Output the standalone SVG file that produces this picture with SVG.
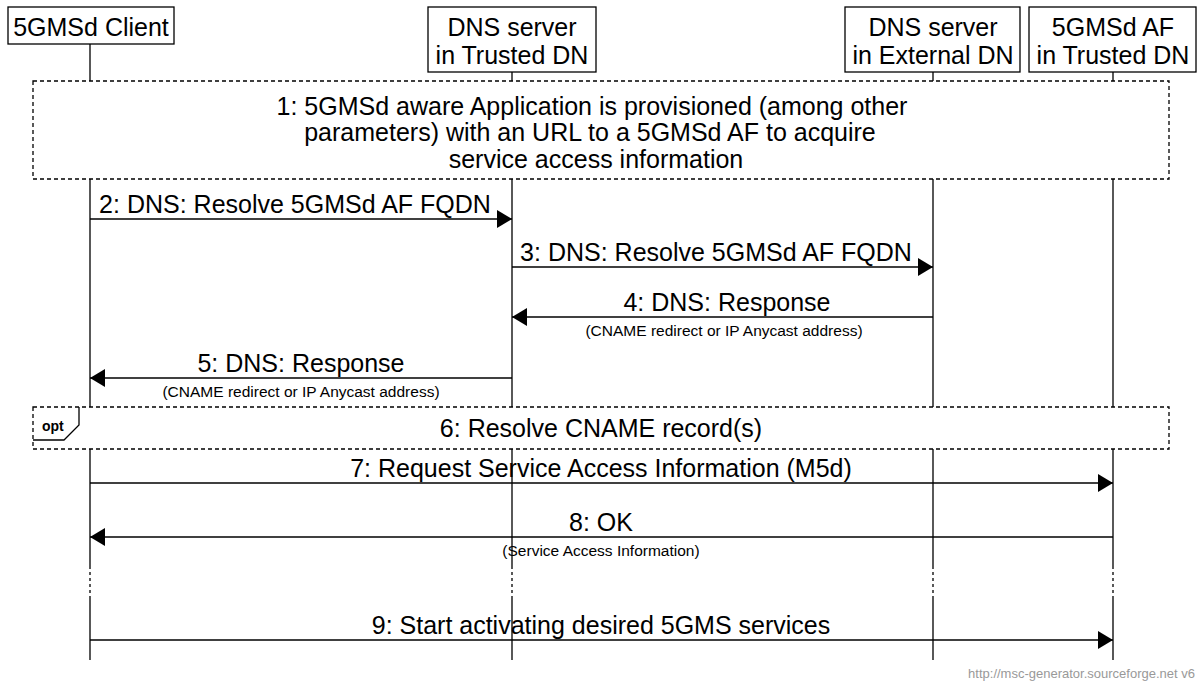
<svg xmlns="http://www.w3.org/2000/svg" width="1198" height="686" viewBox="0 0 1198 686">
<style>
text{font-family:"Liberation Sans",Arial,sans-serif;fill:#000}
.t{font-size:25px;text-anchor:middle}
.s{font-size:15.5px;text-anchor:middle}
.box{fill:#fff;stroke:#000;stroke-width:1.3}
.life{stroke:#000;stroke-width:1.3;fill:none}
.lifed{stroke:#000;stroke-width:1.3;fill:none;stroke-dasharray:3,3}
.frame{fill:#fff;stroke:#000;stroke-width:1.3;stroke-dasharray:4,3}
.arr{stroke:#000;stroke-width:1.3;fill:none;marker-end:url(#ah)}
.wm{font-size:13px;fill:#999;text-anchor:end}
</style>
<defs>
<marker id="ah" markerUnits="userSpaceOnUse" markerWidth="16" markerHeight="20" viewBox="0 0 16 20" refX="15" refY="10" orient="auto">
<path d="M0,1 L15,10 L0,19 Z" fill="#000"/>
</marker>
</defs>
<g id="lifelines">
<path class="life" d="M90,44V566M90,598V660"/>
<path class="life" d="M512,72V566M512,598V660"/>
<path class="life" d="M933,72V566M933,598V660"/>
<path class="life" d="M1113,72V566M1113,598V660"/>
<path class="lifed" d="M90,566V598M512,566V598M933,566V598M1113,566V598"/>
</g>
<g id="client"><rect class="box" x="8" y="7" width="166" height="37"/><text class="t" x="91" y="36">5GMSd Client</text></g>
<g id="dnsTrusted"><rect class="box" x="428" y="7" width="168" height="65"/><text class="t" x="512" y="36">DNS server</text><text class="t" x="512" y="64">in Trusted DN</text></g>
<g id="dnsExternal"><rect class="box" x="845" y="7" width="175" height="65"/><text class="t" x="933" y="36">DNS server</text><text class="t" x="933" y="64">in External DN</text></g>
<g id="af"><rect class="box" x="1029" y="7" width="167" height="65"/><text class="t" x="1113" y="36">5GMSd AF</text><text class="t" x="1113" y="64">in Trusted DN</text></g>
<g id="step1"><rect class="frame" x="33" y="81" width="1136" height="98"/>
<text class="t" x="592" y="115">1: 5GMSd aware Application is provisioned (among other</text>
<text class="t" x="590" y="141">parameters) with an URL to a 5GMSd AF to acquire</text>
<text class="t" x="596" y="168">service access information</text></g>
<g id="opt"><rect class="frame" x="33" y="407" width="1136" height="42"/>
<path d="M79,407V425L64,440H33" fill="none" stroke="#000" stroke-width="1.3"/>
<text x="42" y="431" style="font-size:14px;font-weight:bold">opt</text>
<text class="t" x="601" y="437">6: Resolve CNAME record(s)</text></g>
<g id="connectors">
<line class="arr" x1="90" y1="219" x2="512" y2="219"/>
<line class="arr" x1="512" y1="267" x2="933" y2="267"/>
<line class="arr" x1="933" y1="317" x2="512" y2="317"/>
<line class="arr" x1="512" y1="378" x2="90" y2="378"/>
<line class="arr" x1="90" y1="483" x2="1113" y2="483"/>
<line class="arr" x1="1113" y1="537" x2="90" y2="537"/>
<line class="arr" x1="90" y1="640" x2="1113" y2="640"/>
</g>
<g id="labels">
<text class="t" x="295" y="213">2: DNS: Resolve 5GMSd AF FQDN</text>
<text class="t" x="716" y="261">3: DNS: Resolve 5GMSd AF FQDN</text>
<text class="t" x="727" y="311">4: DNS: Response</text>
<text class="s" x="724" y="336">(CNAME redirect or IP Anycast address)</text>
<text class="t" x="301" y="372">5: DNS: Response</text>
<text class="s" x="301" y="397">(CNAME redirect or IP Anycast address)</text>
<text class="t" x="601" y="477">7: Request Service Access Information (M5d)</text>
<text class="t" x="601" y="531">8: OK</text>
<text class="s" x="601" y="556">(Service Access Information)</text>
<text class="t" x="601" y="634">9: Start activating desired 5GMS services</text>
</g>
<text class="wm" x="1195" y="678">http://msc-generator.sourceforge.net v6</text>
</svg>
